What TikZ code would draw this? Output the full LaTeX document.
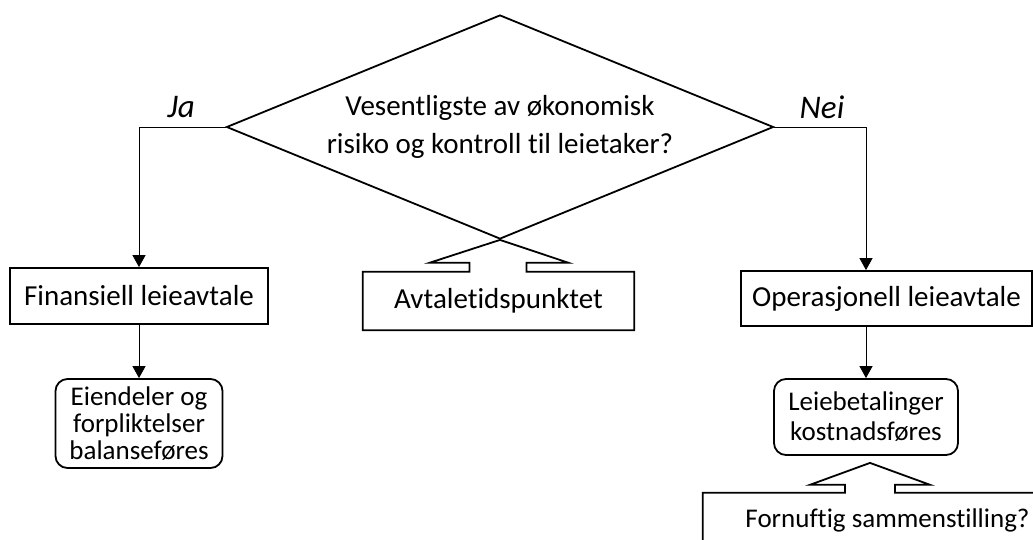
\documentclass[tikz,border=0pt]{standalone}
\usepackage{fontspec}
\setmainfont{Carlito}[Ligatures=NoCommon]
\usetikzlibrary{shapes.geometric,arrows.meta,calc}

\begin{document}
\begin{tikzpicture}
  [x=1pt,y=-1pt,
   every node/.style={inner sep=0pt,align=center,font=\fontsize{29}{29}\selectfont},
   box/.style={draw,line width=1.8pt,rectangle},
   roundbox/.style={draw,line width=1.8pt,rounded corners=12pt,font=\fontsize{27}{28}\selectfont},
   outline/.style={line width=1.8pt,line join=miter},
   answer/.style={font=\fontsize{33}{33}\selectfont\itshape},
   arr/.style={line width=1pt,-{Triangle[length=12pt,width=13pt]}}]
  \useasboundingbox (0,0) rectangle (1033,539);
  \clip (0,0) rectangle (1033,539);

  % the question
  \node[draw,diamond,aspect=2.44,line width=1.8pt,minimum width=547pt,minimum height=224pt,
        font=\fontsize{29}{38}\selectfont] (dia) at (500,127)
        {Vesentligste av økonomisk\\risiko og kontroll til leietaker?};
  \node[answer] (ja) at (181,107) {Ja};
  \node[answer] (nei) at (822,107) {Nei};

  % left branch
  \node[box,minimum width=258pt,minimum height=56pt] (fin) at (139,296) {Finansiell leieavtale};
  \node[roundbox,minimum width=167pt,minimum height=89pt,
        font=\fontsize{27}{27}\selectfont] (eien) at (139,423.5)
        {Eiendeler og\\forpliktelser\\balanseføres};

  % right branch
  \node[box,minimum width=291pt,minimum height=55pt] (ope) at (886.5,298.5) {Operasjonell leieavtale};
  \node[roundbox,minimum width=184pt,minimum height=76pt,
        font=\fontsize{27}{30}\selectfont] (lei) at (866,417)
        {Leiebetalinger\\kostnadsføres};

  % callouts
  \node[minimum width=271pt,minimum height=58pt] (avt) at (498.5,301) {Avtaletidspunktet};
  \node[minimum width=369pt,minimum height=54pt,
        font=\fontsize{27}{27}\selectfont] (forn) at (887.5,520) {Fornuftig sammenstilling?};
  \coordinate (ftip) at ($(lei.south)+(4,7)$);
  \coordinate (fn) at (forn.north -| ftip);

  \draw[outline] (avt.north west) -- ($(avt.north)+(-29,0)$) -- ++(0,-9) -- ++(-40,0)
    -- (dia.south) -- ($(avt.north)+(70,-9)$) -- ++(-42,0) -- ++(0,9)
    -- (avt.north east) -- (avt.south east) -- (avt.south west) -- cycle;
  \draw[outline] (forn.north west) -- ($(fn)+(-25,0)$) -- ++(0,-8) -- ++(-35,0)
    -- (ftip) -- ($(fn)+(60,-8)$) -- ++(-35,0) -- ++(0,8)
    -- (forn.north east) -- (forn.south east) -- (forn.south west) -- cycle;

  % connectors
  \draw[arr] (dia.west) -| (fin.north);
  \draw[arr] (fin.south) -- (eien.north);
  \draw[arr] (dia.east) -| (lei.north |- ope.north);
  \draw[arr] (lei.north |- ope.south) -- (lei.north);

\end{tikzpicture}
\end{document}
